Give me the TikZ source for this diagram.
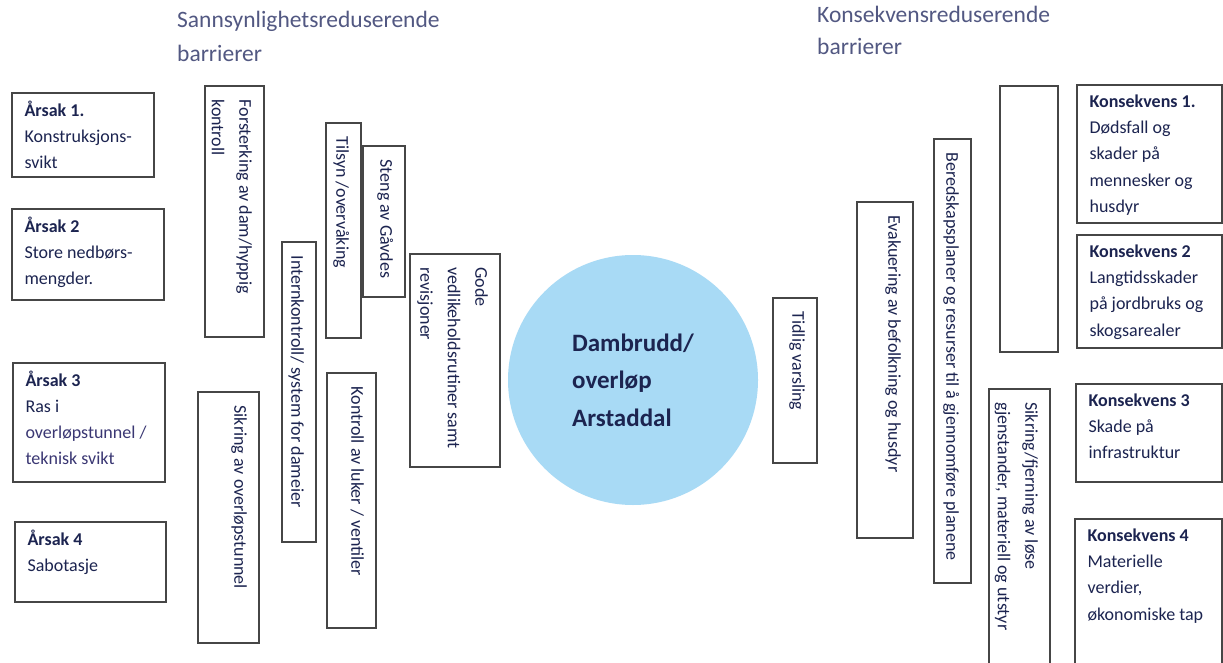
\documentclass[tikz,border=0pt]{standalone}
\usepackage{fontspec}
\setmainfont{Carlito}
\definecolor{ink}{RGB}{28,36,80}
\definecolor{inkb}{RGB}{58,55,115}
\definecolor{ttlc}{RGB}{82,88,130}
\definecolor{edge}{RGB}{70,70,70}
\definecolor{pool}{RGB}{168,218,245}
\newcommand\tps{\rule{0pt}{15pt}}
\newcommand\mkbox[5]{\node[box, minimum width={#4pt-#2pt}, minimum height={#5pt-#3pt}] (#1) at ({(#2+#4)/2},{(#3+#5)/2}) {};}
\begin{document}
\begin{tikzpicture}[x=1pt,y=-1pt,
  box/.style={draw=edge, line width=1.3pt, inner sep=0pt, fill=white},
  htxt/.style={anchor=north west, inner sep=0pt, align=left, text=ink, font=\fontsize{18}{26.2}\selectfont},
  vtxt/.style={anchor=north west, rotate=-90, inner sep=0pt, align=left, text=ink, font=\fontsize{18}{27.5}\selectfont},
  ttl/.style={anchor=base west, inner sep=0pt, text=ttlc, font=\fontsize{23.5}{30}\selectfont}]
\useasboundingbox (0,0) rectangle (1223,663);
\fill[white] (0,0) rectangle (1223,663);

% titles
\node[ttl] (tl1) at (177,28) {Sannsynlighetsreduserende};
\node[ttl] (tl2) at (177,62) {barrierer};
\node[ttl] (tr1) at (817,23) {Konsekvensreduserende};
\node[ttl] (tr2) at (817,55) {barrierer};

% causes
\mkbox{c1}{12}{93}{154}{177}
\mkbox{c2}{12}{209}{164}{300}
\mkbox{c3}{13}{363}{165}{482}
\mkbox{c4}{15}{522}{166}{602}
\node[htxt] (c1t) at ([xshift=13pt,yshift=-8pt]c1.north west) {\tps\textbf{Årsak 1.}\\Konstruksjons-\\svikt};
\node[htxt] (c2t) at ([xshift=13pt,yshift=-8pt]c2.north west) {\tps\textbf{Årsak 2}\\Store nedbørs-\\mengder.};
\node[htxt] (c3t) at ([xshift=13pt,yshift=-8pt]c3.north west) {\tps\textbf{Årsak 3}\\Ras i\\\textcolor{inkb}{overløpstunnel /}\\\textcolor{inkb}{teknisk svikt}};
\node[htxt] (c4t) at ([xshift=13pt,yshift=-8pt]c4.north west) {\tps\textbf{Årsak 4}\\Sabotasje};

% probability-reducing barriers
\mkbox{b1}{205}{86}{264}{337}
\mkbox{b2}{198}{392}{259}{643}
\mkbox{b3}{282}{242}{316}{542}
\mkbox{b4}{326}{123}{361}{338}
\mkbox{b5}{363}{146}{405}{297}
\mkbox{b6}{410}{254}{500}{467}
\mkbox{b7}{327}{373}{376}{628}
\node[vtxt] (b1t) at ([xshift=-10pt,yshift=-14pt]b1.north east) {\tps Forsterking av dam/hyppig\\kontroll};
\node[vtxt] (b2t) at ([xshift=-10pt,yshift=-14pt]b2.north east) {\tps Sikring av overløpstunnel};
\node[vtxt] (b3t) at ([xshift=-10pt,yshift=-14pt]b3.north east) {\tps Internkontroll/ system for dameier};
\node[vtxt] (b4t) at ([xshift=-10pt,yshift=-14pt]b4.north east) {\tps Tilsyn /overvåking};
\node[vtxt] (b5t) at ([xshift=-10pt,yshift=-14pt]b5.north east) {\tps Steng av Gåvdes};
\node[vtxt] (b6t) at ([xshift=-10pt,yshift=-14pt]b6.north east) {\tps Gode\\vedlikeholdsrutiner samt\\revisjoner};
\node[vtxt] (b7t) at ([xshift=-10pt,yshift=-14pt]b7.north east) {\tps Kontroll av luker / ventiler};

% top event
\node[circle, fill=pool, minimum size=250pt, inner sep=0pt, align=left, text=ink,
  font=\bfseries\fontsize{25}{37.5}\selectfont] (ev) at (633,380) {Dambrudd/\\overløp\\Arstaddal};

% consequence-reducing barriers
\mkbox{r1}{773}{298}{817}{463}
\mkbox{r2}{857}{202}{913}{538}
\mkbox{r3}{934}{139}{971}{583}
\mkbox{r4}{1000}{86}{1058}{352}
\mkbox{r5}{989}{389}{1050}{672}
\node[vtxt] (r1t) at ([xshift=-10pt,yshift=-14pt]r1.north east) {\tps Tidlig varsling};
\node[vtxt] (r2t) at ([xshift=-10pt,yshift=-14pt]r2.north east) {\tps Evakuering av befolkning og husdyr};
\node[vtxt] (r3t) at ([xshift=-10pt,yshift=-14pt]r3.north east) {\tps Beredskapsplaner og resurser til å gjennomføre planene};
\node[vtxt] (r5t) at ([xshift=-10pt,yshift=-14pt]r5.north east) {\tps Sikring/fjerning av løse\\gjenstander, materiell og utstyr};

% consequences
\mkbox{k1}{1077}{85}{1222}{223}
\mkbox{k2}{1077}{235}{1222}{348}
\mkbox{k3}{1076}{384}{1222}{482}
\mkbox{k4}{1075}{519}{1222}{672}
\node[htxt] (k1t) at ([xshift=13pt,yshift=-8pt]k1.north west) {\tps\textbf{Konsekvens 1.}\\Dødsfall og\\skader på\\mennesker og\\husdyr};
\node[htxt] (k2t) at ([xshift=13pt,yshift=-8pt]k2.north west) {\tps\textbf{Konsekvens 2}\\Langtidsskader\\på jordbruks og\\skogsarealer};
\node[htxt] (k3t) at ([xshift=13pt,yshift=-8pt]k3.north west) {\tps\textbf{Konsekvens 3}\\Skade på\\infrastruktur};
\node[htxt] (k4t) at ([xshift=13pt,yshift=-8pt]k4.north west) {\tps\textbf{Konsekvens 4}\\Materielle\\verdier,\\økonomiske tap};
\end{tikzpicture}
\end{document}
